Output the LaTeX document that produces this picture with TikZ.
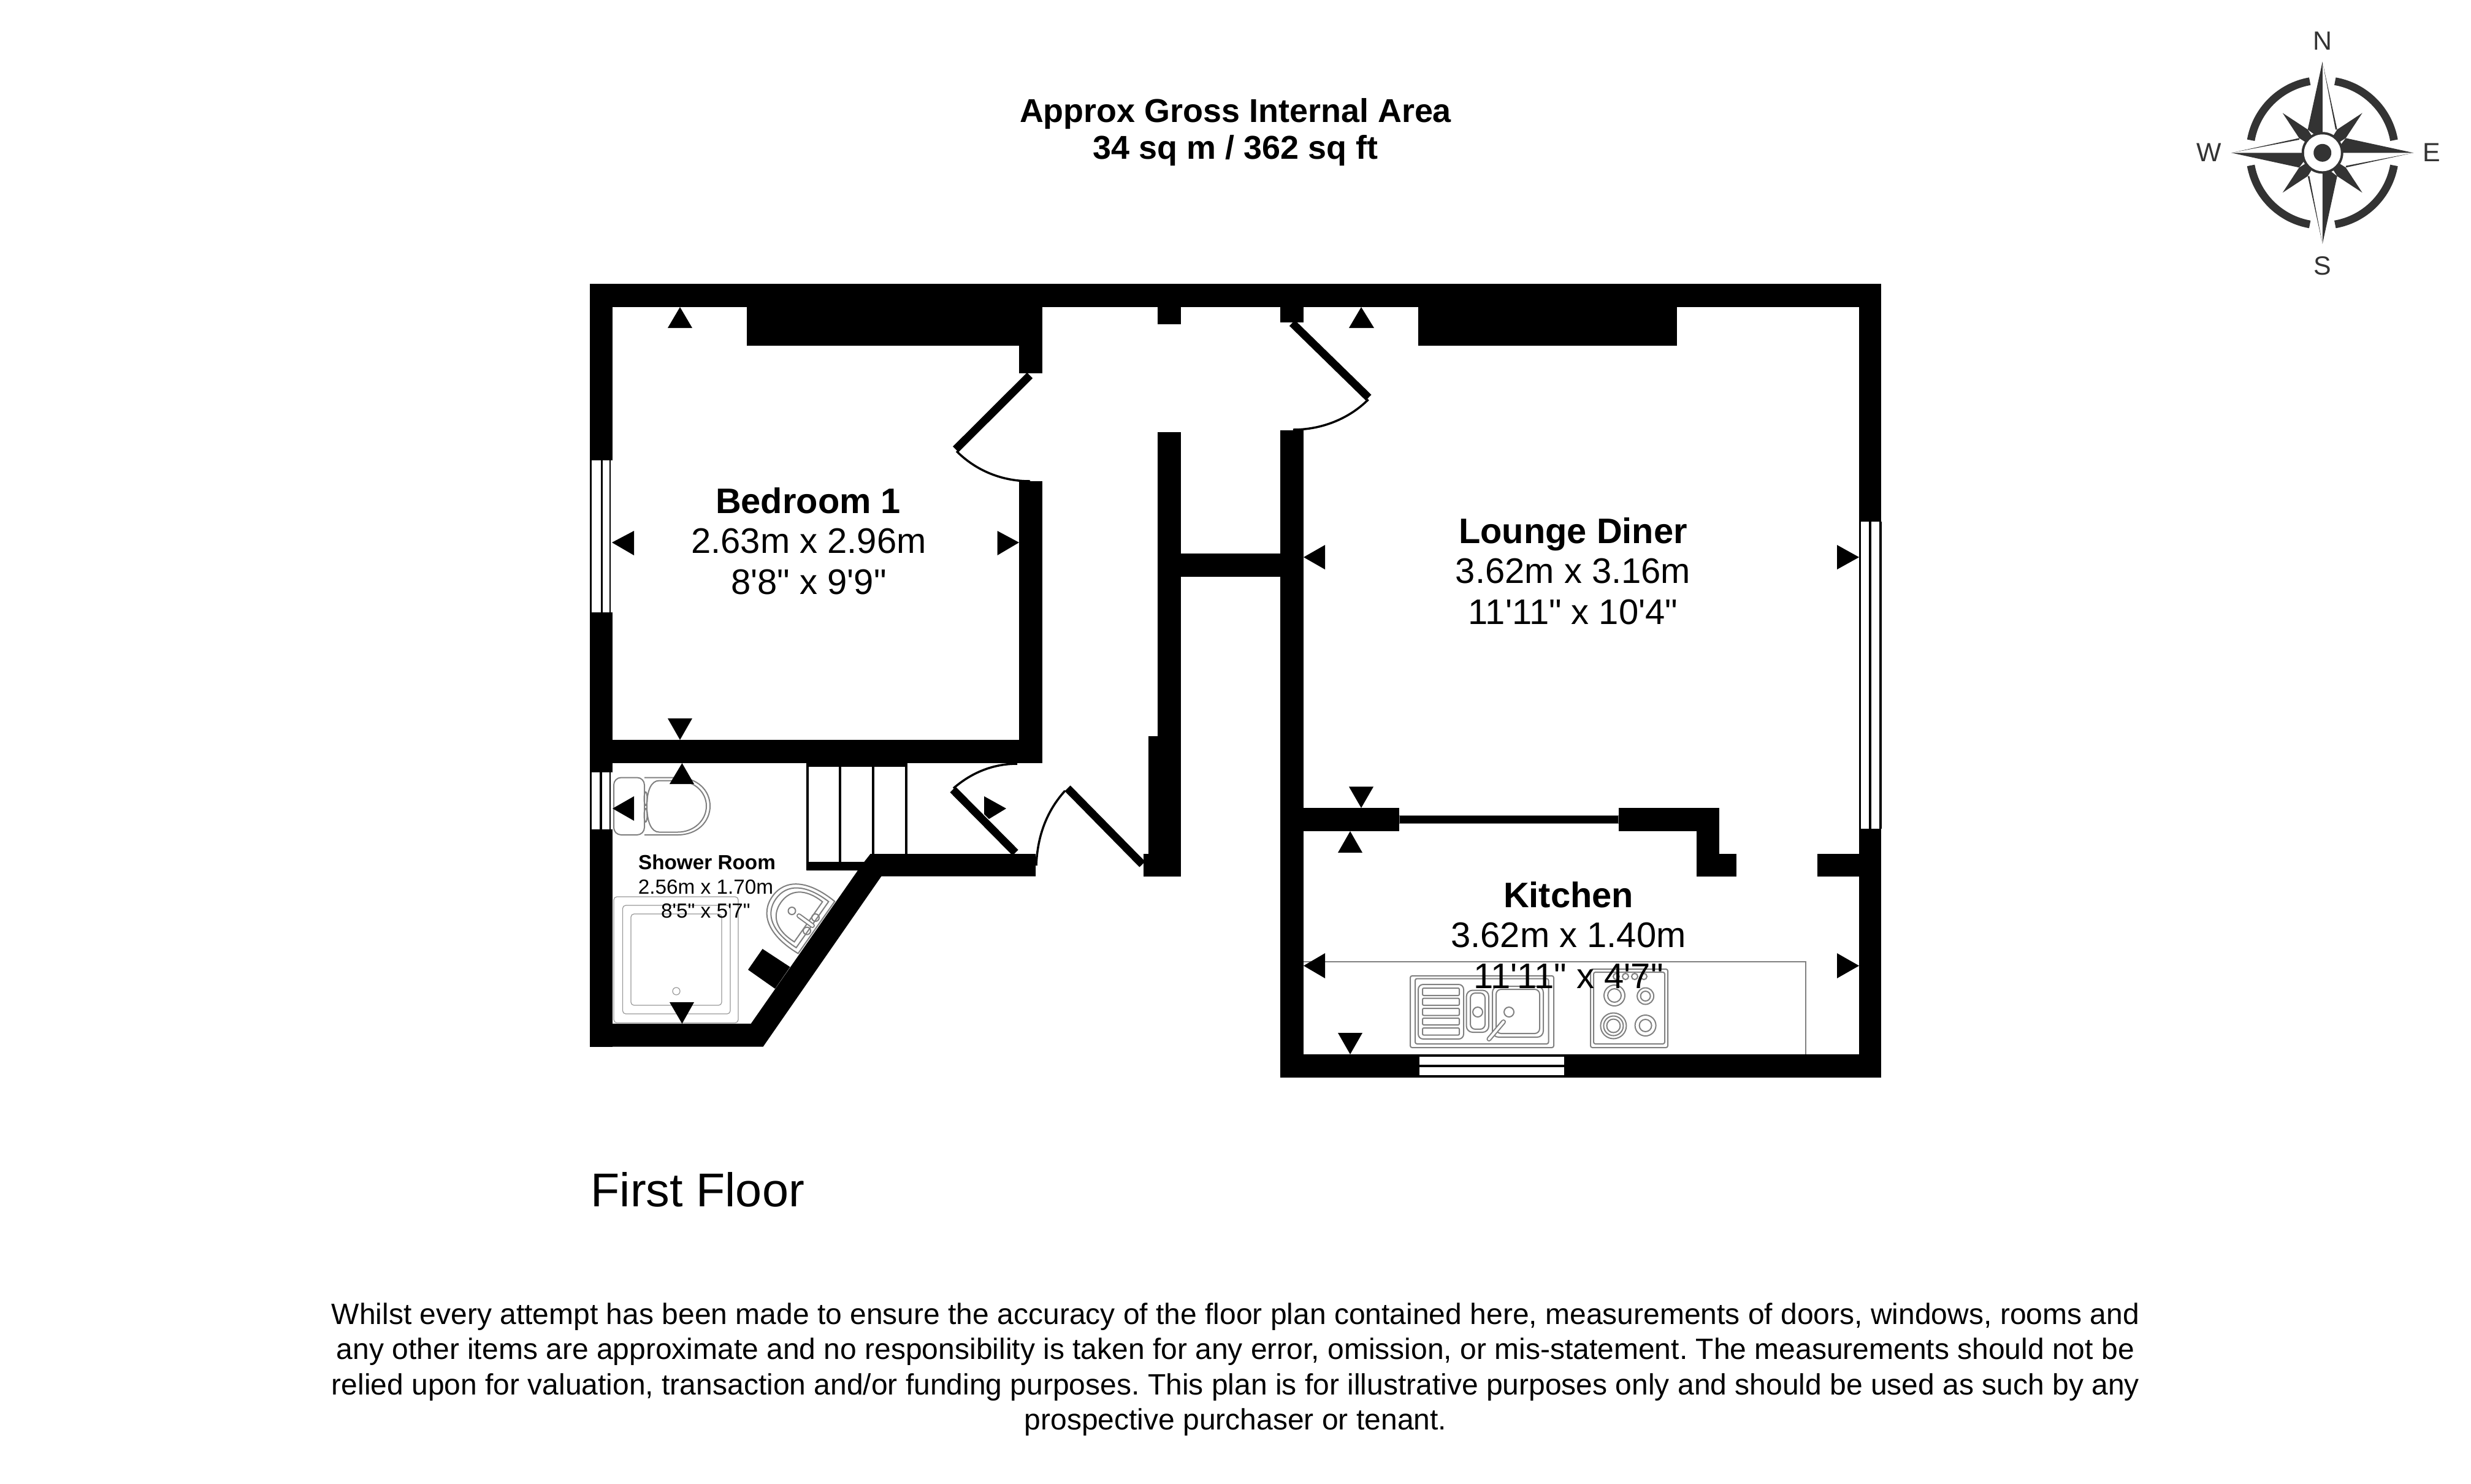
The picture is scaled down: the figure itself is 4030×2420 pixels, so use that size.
\documentclass[tikz,border=0pt]{standalone}
\usepackage{fontspec}
\newfontfamily\ls{Liberation Sans}
\definecolor{cdark}{HTML}{333333}
\definecolor{fixgray}{HTML}{808080}
\newcommand{\fz}[1]{\fontsize{#1}{#1}\selectfont}
\frenchspacing
\tikzset{
  wall/.style={fill=black},
  clearw/.style={fill=white},
  fixline/.style={draw=fixgray,line width=0.02cm},
  fixthin/.style={draw=fixgray!80,line width=0.012cm},
  roomtitle/.style={anchor=base,inner sep=0,font=\ls\bfseries\fz{16.44}},
  roomtext/.style={anchor=base,inner sep=0,font=\ls\fz{16.48}},
  smalltitle/.style={anchor=base,inner sep=0,font=\ls\bfseries\fz{9.47}},
  smalltext/.style={anchor=base,inner sep=0,font=\ls\fz{9.47}},
  headtext/.style={anchor=base,inner sep=0,font=\ls\bfseries\fz{15.33}},
  notetext/.style={anchor=base,inner sep=0,font=\ls\fz{13.65}},
  compassletter/.style={anchor=center,inner sep=0,text=cdark,font=\ls\fz{12.2}},
  leaf/.style={draw=black,line width=0.13cm},
  swing/.style={draw=black,line width=0.035cm},
}
\begin{document}
\begin{tikzpicture}[x=0.01cm,y=-0.01cm]
\useasboundingbox (0,0) rectangle (4030,2420);
\fill[white] (0,0) rectangle (4030,2420);

% walls
\fill[wall] (962,463) rectangle (3068,501);
\fill[wall] (962,463) rectangle (999,1707.5);
\fill[wall] (1218,501) rectangle (1700,564);
\fill[wall] (1662,501) rectangle (1700,609);
\fill[wall] (1662,785) rectangle (1700,1245);
\fill[wall] (962,1207) rectangle (1700,1245);
\fill[wall] (1888,501) rectangle (1926,529);
\fill[wall] (1888,705) rectangle (1926,1201);
\fill[wall] (1873,1201) rectangle (1926,1393);
\fill[wall] (1865,1393) rectangle (1926,1430);
\fill[wall] (2088,501) rectangle (2126,526);
\fill[wall] (2088,702) rectangle (2126,1757.6);
\fill[wall] (1926,903) rectangle (2088,941);
\fill[wall] (2313,501) rectangle (2735,564);
\fill[wall] (3032,463) rectangle (3068,1757.6);
\fill[wall] (2088,1720) rectangle (3068,1757.6);
\fill[wall] (2126,1318) rectangle (2282,1356);
\fill[wall] (2639.5,1318) rectangle (2804,1356);
\fill[wall] (2767,1318) rectangle (2804,1430);
\fill[wall] (2767,1393) rectangle (2832,1430);
\fill[wall] (2964,1393) rectangle (3032,1430);
\filldraw[fill=black,draw=fixgray,line width=0.01cm] (2282,1330) rectangle (2639.5,1343);
\fill[wall] (1316,1406) -- (1409.4,1406) -- (1419.6,1393) -- (1689,1393) -- (1689,1429.5)
  -- (1437.5,1429.5) -- (1244.6,1707.5) -- (962,1707.5) -- (962,1670) -- (1224.7,1670)
  -- (1399,1420) -- (1316,1420) -- cycle;
\fill[wall] (1243.6,1548) -- (1288.5,1577.5) -- (1264,1613) -- (1220,1582) -- cycle;

% stairs
\fill[wall] (1315,1245) rectangle (1480,1251);
\fill[wall] (1315,1245) rectangle (1319,1420);
\fill[wall] (1367.5,1245) rectangle (1372,1406);
\fill[wall] (1422,1245) rectangle (1426,1393);
\fill[wall] (1476,1245) rectangle (1480,1393);

% windows
\fill[clearw] (962,751) rectangle (999,999);
\fill[wall] (962,751) rectangle (964.5,999);
\fill[wall] (979.5,751) rectangle (982.5,999);
\fill[wall] (994,751) rectangle (996,999);
\fill[clearw] (962,1260) rectangle (999,1353);
\fill[wall] (962,1260) rectangle (964.5,1353);
\fill[wall] (978,1260) rectangle (982,1353);
\fill[wall] (994,1260) rectangle (996,1353);
\fill[clearw] (3032,851) rectangle (3070,1352);
\fill[wall] (3032,851) rectangle (3035,1352);
\fill[wall] (3048,851) rectangle (3052,1352);
\fill[wall] (3065,851) rectangle (3069,1352);
\fill[clearw] (2315,1723.5) rectangle (2551,1736.6);
\fill[clearw] (2315,1740.7) rectangle (2551,1753.8);

% doors
\draw[leaf] (1679.6,612.4) -- (1558.6,733);
\draw[swing] (1560,736) .. controls (1592,768) and (1634,785) .. (1680,785);
\draw[leaf] (2107.4,527) -- (2232,648.7);
\draw[swing] (2231.6,651.7) .. controls (2199.6,683.7) and (2154.8,701) .. (2108.8,701);
\draw[leaf] (1554,1288) -- (1656,1391);
\draw[swing] (1555,1286) .. controls (1585,1260) and (1620,1246) .. (1659,1246);
\draw[leaf] (1741,1286) -- (1863,1410);
\draw[swing] (1737,1290) .. controls (1708,1322) and (1692,1362) .. (1690,1412);

% kitchen fittings
\draw[fixline] (2126,1569) -- (2945,1569) -- (2945,1720);
\draw[fixline,rounded corners=0.03cm] (2300,1592) rectangle (2534,1709);
\draw[fixline,rounded corners=0.03cm] (2308,1596.5) rectangle (2525.5,1703);
\draw[fixline,rounded corners=0.08cm] (2313,1606) rectangle (2387,1695);
\foreach \a/\b in {1612/1624,1628.6/1640,1645/1656.5,1661/1672,1677/1688.6}
  \draw[fixline,rounded corners=0.02cm] (2320,\a) rectangle (2380,\b);
\draw[fixline,rounded corners=0.1cm] (2391.6,1615.5) rectangle (2428,1684);
\draw[fixline,rounded corners=0.08cm] (2398,1620) rectangle (2422,1679);
\draw[fixline,rounded corners=0.1cm] (2434,1609) rectangle (2517,1692);
\draw[fixline,rounded corners=0.08cm] (2440,1614) rectangle (2511,1686);
\draw[fixline] (2410,1651) ellipse (8 and 8);
\draw[fixline] (2461,1651) ellipse (8 and 8);
\draw[draw=fixgray,line width=0.08cm,line cap=round] (2452,1667) -- (2428.4,1695);
\draw[draw=white,line width=0.04cm,line cap=round] (2452,1667) -- (2428.4,1695);
\draw[fixline,rounded corners=0.03cm] (2594,1581) rectangle (2720,1709);
\draw[fixline,rounded corners=0.03cm] (2599,1586) rectangle (2715,1703);
\foreach \x/\y/\r in {2633/1624/17,2633/1624/11,2683.6/1625/13.5,2683.6/1625/8,2631.4/1673.5/21,2631.4/1673.5/16,2631.4/1673.5/11,2683.6/1673/17,2683.6/1673/10}
  \draw[fixline] (\x,\y) circle (\r);
\foreach \x in {2636,2651,2666,2681}
  \draw[fixline] (\x,1593) circle (5);

% shower room fittings
\draw[fixline,rounded corners=0.12cm] (1001,1268.5) rectangle (1051,1362);
\draw[fixline] (1051,1268.5) -- (1105,1268.5) .. controls (1138,1268.5) and (1158,1290) .. (1158,1315)
  .. controls (1158,1340) and (1138,1362) .. (1105,1362) -- (1051,1362);
\draw[fixline] (1075,1273.5) -- (1105,1273.5) .. controls (1132,1273.5) and (1152,1292) .. (1152,1315)
  .. controls (1152,1338) and (1132,1357.5) .. (1105,1357.5) -- (1075,1357.5)
  .. controls (1062,1357.5) and (1055,1340) .. (1055,1315) .. controls (1055,1290) and (1062,1273.5) .. (1075,1273.5);
\draw[fixline] (1053,1303) ellipse (2.5 and 11);
\draw[fixline] (1053,1330) ellipse (2.5 and 11);
\draw[fixthin,rounded corners=0.05cm] (1001,1463) rectangle (1204,1668.6);
\draw[fixthin,rounded corners=0.05cm] (1015.5,1477) rectangle (1191,1654);
\draw[fixthin,rounded corners=0.05cm] (1029,1491) rectangle (1177,1640);
\draw[fixthin] (1103,1617) ellipse (6 and 6);
\begin{scope}[shift={(1331.5,1513)},x={(-0.00573cm,-0.00816cm)},y={(-0.00816cm,0.00573cm)}]
  \draw[fixline] (-52,0) .. controls (-56,57) and (-35,88) .. (0,88) .. controls (35,88) and (56,57) .. (52,0) -- cycle;
  \draw[fixline] (-46,8) .. controls (-48,56) and (-30,81) .. (0,81) .. controls (30,81) and (48,56) .. (46,8) -- cycle;
  \draw[fixline] (-40,16) .. controls (-42,52) and (-26,71) .. (0,71) .. controls (26,71) and (42,52) .. (40,16) -- cycle;
\end{scope}
\draw[fixline] (1291.5,1486) circle (6);
\draw[fixline] (1330,1497) circle (6);
\draw[fixline] (1316,1518.6) circle (6);
\draw[draw=fixgray,line width=0.08cm,line cap=round] (1303,1494) -- (1325,1510);
\draw[draw=white,line width=0.04cm,line cap=round] (1303,1494) -- (1325,1510);

% triangles
\fill (1109,501) -- (1089,535) -- (1129,535) -- cycle;
\fill (1109,1207) -- (1089,1172) -- (1129,1172) -- cycle;
\fill (998,885) -- (1034,866) -- (1034,906) -- cycle;
\fill (1662,885) -- (1626.5,866) -- (1626.5,906) -- cycle;
\fill (2126,909) -- (2161,889) -- (2161,929) -- cycle;
\fill (3032,909) -- (2996,889) -- (2996,929) -- cycle;
\fill (2220,501) -- (2200,535) -- (2241,535) -- cycle;
\fill (2220,1318) -- (2200,1283.4) -- (2240,1283.4) -- cycle;
\fill (2202,1356) -- (2182,1391) -- (2222,1391) -- cycle;
\fill (2126,1575.5) -- (2161,1555) -- (2161,1596) -- cycle;
\fill (3032,1575.5) -- (2996,1555) -- (2996,1596) -- cycle;
\fill (2202,1720) -- (2182,1685) -- (2222,1685) -- cycle;
\fill (1605,1299) -- (1641,1319) -- (1613,1336) -- (1605,1328) -- cycle;
\fill (1112.4,1245) -- (1092,1279) -- (1132,1279) -- cycle;
\fill (999,1319) -- (1034,1299) -- (1034,1339) -- cycle;
\fill (1112.4,1670) -- (1092,1635) -- (1132,1635) -- cycle;

% room labels
\node[roomtitle] (bedT) at (1318,837) {Bedroom 1};
\node[roomtext] (bedA) at (1319,902) {2.63m x 2.96m};
\node[roomtext] (bedB) at (1319,969) {8'8" x 9'9"};
\node[roomtitle] (lngT) at (2565.6,886.4) {Lounge Diner};
\node[roomtext] (lngA) at (2565.6,951.7) {3.62m x 3.16m};
\node[roomtext] (lngB) at (2565.6,1018) {11'11" x 10'4"};
\node[roomtitle] (kitT) at (2558,1480) {Kitchen};
\node[roomtext] (kitA) at (2558,1545.5) {3.62m x 1.40m};
\node[roomtext] (kitB) at (2558,1612.8) {11'11" x 4'7"};
\node[smalltitle] (shwT) at (1153,1418.6) {Shower Room};
\node[smalltext] (shwA) at (1151,1458.6) {2.56m x 1.70m};
\node[smalltext] (shwB) at (1151,1497) {8'5" x 5'7"};

% headings and notes
\node[headtext] (head1) at (2015,199) {Approx Gross Internal Area};
\node[headtext] (head2) at (2015,259) {34 sq m / 362 sq ft};
\node[anchor=base west,inner sep=0,font=\ls\fz{22}] (floor) at (963,1968) {First Floor};
\node[notetext] (n1) at (2015,2160) {Whilst every attempt has been made to ensure the accuracy of the floor plan contained here, measurements of doors, windows, rooms and};
\node[notetext] (n2) at (2015,2217) {any other items are approximate and no responsibility is taken for any error, omission, or mis-statement. The measurements should not be};
\node[notetext] (n3) at (2015,2275) {relied upon for valuation, transaction and/or funding purposes. This plan is for illustrative purposes only and should be used as such by any};
\node[notetext] (n4) at (2015,2332) {prospective purchaser or tenant.};

% compass
\begin{scope}[shift={(3787.7,249.3)},x=0.01cm,y=0.01cm]
  \foreach \a in {0,90,180,270} {
    \draw[cdark,line width=0.127cm] ({\a+10}:118.5) arc[start angle=\a+10,end angle=\a+80,radius=118.5];
    \begin{scope}[rotate=-\a]
      \fill[cdark] (0,148.5) -- (-24,38) -- (0,20) -- cycle;
      \fill[cdark] (0,148.5) -- (24,38) -- (21.3,38) -- cycle;
      \fill[cdark] (-65,65) -- (-24,38) -- (0,0) -- (-38,24) -- cycle;
    \end{scope}
  }
  \fill[cdark] (0,0) circle (34);
  \fill[white] (0,0) circle (30);
  \fill[cdark] (0,0) circle (14.5);
\end{scope}
\node[compassletter] (cN) at (3787.7,66.7) {N};
\node[compassletter] (cS) at (3787.7,434) {S};
\node[compassletter] (cW) at (3602.7,249) {W};
\node[compassletter] (cE) at (3966,249) {E};
\end{tikzpicture}
\end{document}
